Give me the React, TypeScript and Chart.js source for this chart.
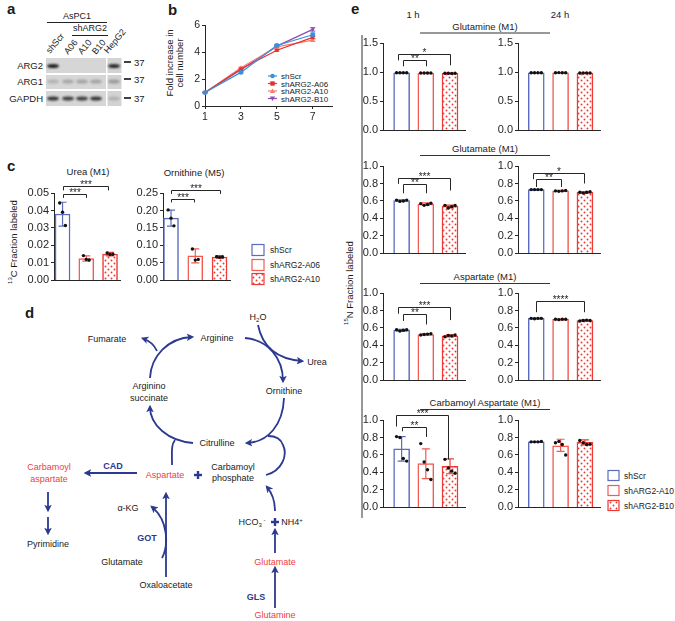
import React, { useEffect, useRef } from 'react';
import { Chart, registerables } from 'chart.js';
Chart.register(...registerables);

const FONT = '"Liberation Sans", Arial, Helvetica, sans-serif';
const NAVY = '#2b3990';
const RED_T = '#f03c3c';
const AXIS = '#262626';
const C_SCR = '#5a6cbd';
const C_A = '#f25a52';
const C_B = '#ee3a34';
const BAR_COLORS = [C_SCR, C_A, C_B];

// ---------------- panel b : growth ----------------
const growthDays = [1, 3, 5, 7];
const growthTicksY = [0, 2, 4, 6];
const growthNames = ['shScr', 'shARG2-A06', 'shARG2-A10', 'shARG2-B10'];
const growthScr = [1, 2.5, 4.5, 5.3];
const growthA06 = [1, 2.75, 4.15, 5.1];
const growthA10 = [1, 2.85, 4.4, 4.9];
const growthB10 = [1, 2.7, 4.45, 5.7];
const growthErrScr = [0.02, 0.06, 0.08, 0.12];
const growthErrA06 = [0.02, 0.05, 0.07, 0.1];
const growthErrA10 = [0.02, 0.05, 0.07, 0.1];
const growthErrB10 = [0.02, 0.05, 0.06, 0.13];
const growthColors = ['#3a8fd9', '#e8302a', '#f47c70', '#8e4db5'];

// ---------------- panel c : 13C ----------------
const cGroups = ['shScr', 'shARG2-A06', 'shARG2-A10'];
const cTicksUrea = [0, 0.01, 0.02, 0.03, 0.04, 0.05];
const cTicksOrn = [0, 0.05, 0.1, 0.15, 0.2, 0.25];
const ureaMean = [0.038, 0.0125, 0.015];
const ureaLo = [0.031, 0.011, 0.014];
const ureaHi = [0.0447, 0.014, 0.016];
const ureaPts = [[0.0443, 0.039, 0.0314], [0.0142, 0.012, 0.0117], [0.0157, 0.0148, 0.015]];
const ureaBr = [[0, 1, 0.0493, 0.0472, 0.0472, '***'], [0, 1.92, 0.0541, 0.0515, 0.0515, '***']];
const ornMean = [0.178, 0.07, 0.067];
const ornLo = [0.155, 0.05, 0.064];
const ornHi = [0.201, 0.09, 0.071];
const ornPts = [[0.2016, 0.178, 0.156], [0.09, 0.058, 0.06], [0.068, 0.066, 0.067]];
const ornBr = [[0, 0.93, 0.2339, 0.2231, 0.2231, '***'], [0, 2, 0.258, 0.2473, 0.2473, '***']];

// ---------------- panel e : 15N ----------------
const eGroups = ['shScr', 'shARG2-A10', 'shARG2-B10'];
const eTicksGln = [0, 0.5, 1.0, 1.5];
const eTicksFrac = [0, 0.2, 0.4, 0.6, 0.8, 1.0];
const eTitles = ['Glutamine (M1)', 'Glutamate (M1)', 'Aspartate (M1)', 'Carbamoyl Aspartate (M1)'];
const eTimes = ['1 h', '24 h'];

const gln1hMean = [0.99, 0.985, 0.98];
const gln1hLo = [0.987, 0.982, 0.976];
const gln1hHi = [0.993, 0.988, 0.984];
const gln1hPts = [[0.99, 0.99, 0.99, 0.99], [0.985, 0.986, 0.985, 0.986], [0.98, 0.982, 0.978, 0.98]];
const gln1hBr = [[0.05, 1, 1.202, 1.1, 1.1, '**'], [-0.15, 2, 1.309, 1.202, 1.117, '*']];
const gln24hMean = [0.99, 0.99, 0.985];
const gln24hLo = [0.988, 0.988, 0.982];
const gln24hHi = [0.992, 0.992, 0.988];
const gln24hPts = [[0.99, 0.99, 0.99, 0.99], [0.99, 0.992, 0.99, 0.99], [0.985, 0.984, 0.987, 0.985]];

const glu1hMean = [0.605, 0.565, 0.54];
const glu1hLo = [0.595, 0.55, 0.52];
const glu1hHi = [0.612, 0.578, 0.552];
const glu1hPts = [[0.61, 0.595, 0.6, 0.61], [0.57, 0.55, 0.56, 0.575], [0.55, 0.52, 0.535, 0.548]];
const glu1hBr = [[0.05, 1, 0.796, 0.688, 0.688, '**'], [-0.15, 2, 0.867, 0.796, 0.72, '***']];
const glu24hMean = [0.73, 0.715, 0.7];
const glu24hLo = [0.727, 0.708, 0.69];
const glu24hHi = [0.733, 0.722, 0.708];
const glu24hPts = [[0.73, 0.73, 0.73, 0.73], [0.715, 0.71, 0.715, 0.72], [0.7, 0.69, 0.7, 0.705]];
const glu24hBr = [[0, 1, 0.85, 0.76, 0.76, '**'], [-0.15, 1.95, 0.92, 0.85, 0.8, '*']];

const asp1hMean = [0.575, 0.525, 0.51];
const asp1hLo = [0.562, 0.518, 0.498];
const asp1hHi = [0.585, 0.535, 0.522];
const asp1hPts = [[0.58, 0.565, 0.575, 0.58], [0.52, 0.525, 0.53, 0.535], [0.5, 0.515, 0.51, 0.52]];
const asp1hBr = [[0.05, 1, 0.763, 0.68, 0.64, '**'], [-0.15, 2, 0.835, 0.763, 0.69, '***']];
const asp24hMean = [0.71, 0.7, 0.685];
const asp24hLo = [0.705, 0.695, 0.678];
const asp24hHi = [0.713, 0.703, 0.692];
const asp24hPts = [[0.71, 0.705, 0.71, 0.71], [0.7, 0.695, 0.7, 0.7], [0.68, 0.685, 0.69, 0.685]];
const asp24hBr = [[0, 1.95, 0.906, 0.78, 0.78, '****']];

const cba1hMean = [0.67, 0.5, 0.47];
const cba1hLo = [0.53, 0.33, 0.385];
const cba1hHi = [0.81, 0.67, 0.555];
const cba1hPts = [[0.81, 0.8, 0.56, 0.53], [0.73, 0.52, 0.43, 0.32], [0.55, 0.45, 0.415, 0.39]];
const cba1hBr = [[0.0, 1, 0.925, 0.871, 0.806, '**'], [-0.25, 1.93, 1.054, 0.925, 0.548, '***']];
const cba24hMean = [0.75, 0.705, 0.745];
const cba24hLo = [0.747, 0.64, 0.715];
const cba24hHi = [0.753, 0.78, 0.772];
const cba24hPts = [[0.75, 0.75, 0.75, 0.755], [0.74, 0.755, 0.72, 0.6], [0.765, 0.74, 0.72, 0.722]];

type Br = [number, number, number, number, number, string];
type BarDef = {
  axisX: number; right: number; top: number; bottom: number; xMin: number; xMax: number;
  ticks: number[]; dec: number; means: number[]; lo: number[]; hi: number[]; pts: number[][];
  brackets: Br[]; jitter: number; barW: number;
};

// plot-area layouts (pixels) – kept separate from data
const LAY_E_L = { axisX: 383, right: 465, xMin: -0.77, xMax: 2.62, jitter: 0.14, barW: 16 };
const LAY_E_R = { axisX: 518, right: 600, xMin: -0.75, xMax: 2.62, jitter: 0.14, barW: 16 };
const ROWS_E = [[43, 136], [166, 259], [293, 386], [420, 513]];

const barDefs: BarDef[] = [
  { axisX: 54, right: 120, top: 193, bottom: 286, xMin: -0.36, xMax: 2.42, jitter: 0.12, barW: 15,
    ticks: cTicksUrea, dec: 2, means: ureaMean, lo: ureaLo, hi: ureaHi, pts: ureaPts, brackets: ureaBr as Br[] },
  { axisX: 163, right: 230, top: 193, bottom: 286, xMin: -0.33, xMax: 2.43, jitter: 0.12, barW: 15,
    ticks: cTicksOrn, dec: 2, means: ornMean, lo: ornLo, hi: ornHi, pts: ornPts, brackets: ornBr as Br[] },
  { ...LAY_E_L, top: ROWS_E[0][0], bottom: ROWS_E[0][1], ticks: eTicksGln, dec: 1, means: gln1hMean, lo: gln1hLo, hi: gln1hHi, pts: gln1hPts, brackets: gln1hBr as Br[] },
  { ...LAY_E_R, top: ROWS_E[0][0], bottom: ROWS_E[0][1], ticks: eTicksGln, dec: 1, means: gln24hMean, lo: gln24hLo, hi: gln24hHi, pts: gln24hPts, brackets: [] },
  { ...LAY_E_L, top: ROWS_E[1][0], bottom: ROWS_E[1][1], ticks: eTicksFrac, dec: 1, means: glu1hMean, lo: glu1hLo, hi: glu1hHi, pts: glu1hPts, brackets: glu1hBr as Br[] },
  { ...LAY_E_R, top: ROWS_E[1][0], bottom: ROWS_E[1][1], ticks: eTicksFrac, dec: 1, means: glu24hMean, lo: glu24hLo, hi: glu24hHi, pts: glu24hPts, brackets: glu24hBr as Br[] },
  { ...LAY_E_L, top: ROWS_E[2][0], bottom: ROWS_E[2][1], ticks: eTicksFrac, dec: 1, means: asp1hMean, lo: asp1hLo, hi: asp1hHi, pts: asp1hPts, brackets: asp1hBr as Br[] },
  { ...LAY_E_R, top: ROWS_E[2][0], bottom: ROWS_E[2][1], ticks: eTicksFrac, dec: 1, means: asp24hMean, lo: asp24hLo, hi: asp24hHi, pts: asp24hPts, brackets: asp24hBr as Br[] },
  { ...LAY_E_L, top: ROWS_E[3][0], bottom: ROWS_E[3][1], ticks: eTicksFrac, dec: 1, means: cba1hMean, lo: cba1hLo, hi: cba1hHi, pts: cba1hPts, brackets: cba1hBr as Br[] },
  { ...LAY_E_R, top: ROWS_E[3][0], bottom: ROWS_E[3][1], ticks: eTicksFrac, dec: 1, means: cba24hMean, lo: cba24hLo, hi: cba24hHi, pts: cba24hPts, brackets: [] },
];

function makePattern(color: string) {
  const c = document.createElement('canvas');
  c.width = 6; c.height = 6;
  const g = c.getContext('2d')!;
  g.fillStyle = '#fff';
  g.fillRect(0, 0, 6, 6);
  g.fillStyle = color;
  g.beginPath(); g.arc(1.5, 1.5, 0.95, 0, Math.PI * 2); g.fill();
  g.beginPath(); g.arc(4.5, 4.5, 0.95, 0, Math.PI * 2); g.fill();
  return g.createPattern(c, 'repeat');
}

function BarPanel({ d }: { d: BarDef }) {
  const ref = useRef<HTMLCanvasElement>(null);
  const YW = 40, PT = 24, PR = 8, PB = 3;
  const ax = Math.round(d.axisX), tp = Math.round(d.top);
  const left = ax - YW, top = tp - PT;
  const w = YW + Math.round(d.right) - ax + PR;
  const h = PT + Math.round(d.bottom) - tp + PB;
  useEffect(() => {
    const pattern = makePattern(C_B);
    const pts: { x: number; y: number }[] = [];
    d.pts.forEach((arr, i) => arr.forEach((v, k) => pts.push({ x: i + (k - (arr.length - 1) / 2) * d.jitter, y: v })));
    const extras = {
      id: 'extras',
      afterDatasetDraw(chart: any, args: any) {
        if (args.index !== 1) return;
        const { ctx } = chart;
        const x = chart.scales.x, y = chart.scales.y;
        ctx.save();
        ctx.lineWidth = 1.2;
        d.means.forEach((_m, i) => {
          const px = x.getPixelForValue(i);
          const yl = y.getPixelForValue(d.lo[i]);
          const yh = y.getPixelForValue(d.hi[i]);
          ctx.strokeStyle = BAR_COLORS[i];
          ctx.beginPath();
          ctx.moveTo(px, yl); ctx.lineTo(px, yh);
          ctx.moveTo(px - 4, yl); ctx.lineTo(px + 4, yl);
          ctx.moveTo(px - 4, yh); ctx.lineTo(px + 4, yh);
          ctx.stroke();
        });
        ctx.restore();
      },
      afterDraw(chart: any) {
        const { ctx } = chart;
        const x = chart.scales.x, y = chart.scales.y;
        ctx.save();
        ctx.strokeStyle = AXIS; ctx.fillStyle = AXIS; ctx.lineWidth = 1;
        ctx.font = `10px ${FONT}`; ctx.textAlign = 'center'; ctx.textBaseline = 'alphabetic';
        d.brackets.forEach(([a, b, yy, e1, e2, lab]) => {
          const x1 = Math.round(x.getPixelForValue(a)) + 0.5;
          const x2 = Math.round(x.getPixelForValue(b)) + 0.5;
          const py = Math.round(y.getPixelForValue(yy)) + 0.5;
          ctx.beginPath();
          ctx.moveTo(x1, y.getPixelForValue(e1)); ctx.lineTo(x1, py);
          ctx.lineTo(x2, py); ctx.lineTo(x2, y.getPixelForValue(e2));
          ctx.stroke();
          ctx.fillText(lab, (x1 + x2) / 2, py + 1.5);
        });
        ctx.restore();
      },
    };
    const chart = new Chart(ref.current!, {
      type: 'bar',
      data: {
        datasets: [
          { type: 'scatter', data: pts, pointRadius: 1.7, pointBackgroundColor: '#111', pointBorderWidth: 0, order: 0, clip: false } as any,
          { type: 'bar', data: d.means.map((m, i) => ({ x: i, y: m })), backgroundColor: ['#ffffff', '#ffffff', pattern], borderColor: BAR_COLORS, borderWidth: 1.5, barThickness: d.barW, order: 1, clip: false, borderSkipped: 'bottom' } as any,
        ],
      },
      options: {
        animation: false, responsive: false, maintainAspectRatio: false, events: [],
        layout: { padding: { top: PT, right: PR, bottom: PB, left: 0 } },
        plugins: { legend: { display: false }, tooltip: { enabled: false } },
        scales: {
          x: {
            type: 'linear', min: d.xMin, max: d.xMax, offset: false,
            afterFit: (s: any) => { s.height = 0; },
            ticks: { display: false }, grid: { display: false },
            border: { display: true, color: AXIS, width: 1 },
          },
          y: {
            type: 'linear', min: 0, max: d.ticks[d.ticks.length - 1],
            afterFit: (s: any) => { s.width = YW; },
            afterBuildTicks: (s: any) => { s.ticks = d.ticks.map((v) => ({ value: v })); },
            ticks: { font: { family: FONT, size: 11 }, color: AXIS, padding: 2, callback: (v: any) => Number(v).toFixed(d.dec) },
            grid: { display: true, drawOnChartArea: false, drawTicks: true, tickLength: 3, color: AXIS },
            border: { display: true, color: AXIS, width: 1 },
          },
        },
      } as any,
      plugins: [extras],
    });
    return () => chart.destroy();
  }, []);
  return <canvas ref={ref} width={w} height={h} style={{ position: 'absolute', left, top, width: w, height: h }} />;
}

function GrowthChart() {
  const ref = useRef<HTMLCanvasElement>(null);
  const axisX = 205, right = 332, topY = 23, bottomY = 106;
  const YW = 16, PT = 6, PR = 6, XH = 18;
  const left = axisX - YW, top = topY - PT;
  const w = YW + right - axisX + PR, h = PT + bottomY - topY + XH;
  useEffect(() => {
    const series = [growthScr, growthA06, growthA10, growthB10];
    const errs = [growthErrScr, growthErrA06, growthErrA10, growthErrB10];
    const styles = ['circle', 'rect', 'triangle', 'triangle'];
    const rots = [0, 0, 0, 180];
    const errPlugin = {
      id: 'gerr',
      beforeDatasetsDraw(chart: any) {
        const { ctx } = chart;
        const x = chart.scales.x, y = chart.scales.y;
        ctx.save(); ctx.lineWidth = 1;
        series.forEach((s, si) => {
          ctx.strokeStyle = growthColors[si];
          s.forEach((v, i) => {
            const px = x.getPixelForValue(growthDays[i]);
            const a = y.getPixelForValue(v - errs[si][i]), b = y.getPixelForValue(v + errs[si][i]);
            ctx.beginPath();
            ctx.moveTo(px, a); ctx.lineTo(px, b);
            ctx.moveTo(px - 2.5, a); ctx.lineTo(px + 2.5, a);
            ctx.moveTo(px - 2.5, b); ctx.lineTo(px + 2.5, b);
            ctx.stroke();
          });
        });
        ctx.restore();
      },
    };
    const chart = new Chart(ref.current!, {
      type: 'line',
      data: {
        datasets: series.map((s, si) => ({
          label: growthNames[si],
          data: s.map((v, i) => ({ x: growthDays[i], y: v })),
          borderColor: growthColors[si], backgroundColor: growthColors[si],
          pointStyle: styles[si], rotation: rots[si], pointRadius: 2.4, pointBorderWidth: 0,
          borderWidth: 1.2, tension: 0, clip: false,
        })) as any,
      },
      options: {
        animation: false, responsive: false, maintainAspectRatio: false, events: [],
        layout: { padding: { top: PT, right: PR, bottom: 0, left: 0 } },
        plugins: { legend: { display: false }, tooltip: { enabled: false } },
        scales: {
          x: {
            type: 'linear', min: 1, max: 8.07,
            afterFit: (s: any) => { s.height = XH; },
            afterBuildTicks: (s: any) => { s.ticks = growthDays.map((v) => ({ value: v })); },
            ticks: { font: { family: FONT, size: 10.5 }, color: AXIS, padding: 2 },
            grid: { display: true, drawOnChartArea: false, drawTicks: true, tickLength: 3, color: AXIS },
            border: { display: true, color: AXIS, width: 1 },
          },
          y: {
            type: 'linear', min: 0, max: 6,
            afterFit: (s: any) => { s.width = YW; },
            afterBuildTicks: (s: any) => { s.ticks = growthTicksY.map((v) => ({ value: v })); },
            ticks: { font: { family: FONT, size: 10.5 }, color: AXIS, padding: 2 },
            grid: { display: true, drawOnChartArea: false, drawTicks: true, tickLength: 3, color: AXIS },
            border: { display: true, color: AXIS, width: 1 },
          },
        },
      } as any,
      plugins: [errPlugin],
    });
    return () => chart.destroy();
  }, []);
  return <canvas ref={ref} width={w} height={h} style={{ position: 'absolute', left, top, width: w, height: h }} />;
}

const T = ({ x, y, children, a = 'middle', s = 9, c = '#1a1a1a', w = 'normal' }: any) => (
  <text x={x} y={y} textAnchor={a} fontSize={s} fill={c} fontWeight={w} fontFamily={FONT}>{children}</text>
);

function Marker({ kind, x, y, c }: any) {
  if (kind === 0) return <circle cx={x} cy={y} r={2.2} fill={c} />;
  if (kind === 1) return <rect x={x - 2.2} y={y - 2.2} width={4.4} height={4.4} fill={c} />;
  if (kind === 2) return <path d={`M${x},${y - 2.6} L${x + 2.6},${y + 2} L${x - 2.6},${y + 2} Z`} fill={c} />;
  return <path d={`M${x},${y + 2.6} L${x + 2.6},${y - 2} L${x - 2.6},${y - 2} Z`} fill={c} />;
}

function Blot() {
  const lanes = [53, 68, 82, 96, 114];
  const rows = [
    { name: 'ARG2', y0: 58, y1: 73, yb: 66, ints: [0.95, 0, 0, 0, 0.9], mk: 62 },
    { name: 'ARG1', y0: 75, y1: 89, yb: 81.5, ints: [0.18, 0.24, 0.26, 0.26, 0.3], mk: 79 },
    { name: 'GAPDH', y0: 91, y1: 106, yb: 98.5, ints: [0.85, 0.8, 0.8, 0.85, 0.18], mk: 98 },
  ];
  const laneLabels = [['shScr', 50, 54], ['A06', 68, 55], ['A10', 82, 55], ['B10', 96, 55], ['HepG2', 108, 54]];
  return (
    <g>
      <T x={7} y={14} s={15} w="bold" a="start">a</T>
      <T x={77} y={19}>AsPC1</T>
      <line x1={47} x2={107} y1={22.5} y2={22.5} stroke="#222" strokeWidth={1} />
      <T x={90} y={31}>shARG2</T>
      <line x1={72} x2={108} y1={35.5} y2={35.5} stroke="#222" strokeWidth={1} />
      {laneLabels.map(([t, x, y]: any) => (
        <text key={t} x={x} y={y} fontSize={9} fontFamily={FONT} fill="#1a1a1a" transform={`rotate(-50 ${x} ${y})`}>{t}</text>
      ))}
      {rows.map((r) => (
        <g key={r.name}>
          <rect x={46} y={r.y0} width={60} height={r.y1 - r.y0} fill="#d6d6d6" />
          <rect x={107.5} y={r.y0} width={14} height={r.y1 - r.y0} fill="#d3d3d3" />
          {r.ints.map((v, i) => v > 0 ? (
            <ellipse key={i} cx={lanes[i]} cy={r.yb} rx={6} ry={2} fill="#151515" opacity={v} filter="url(#blur)" />
          ) : null)}
          <T x={43} y={r.yb + 3} a="end" s={9.5}>{r.name}</T>
          <line x1={124} x2={131} y1={r.mk} y2={r.mk} stroke="#111" strokeWidth={1.6} />
          <T x={134} y={r.mk + 3.5} a="start" s={9.5}>37</T>
        </g>
      ))}
    </g>
  );
}

function Pathway() {
  const P = (d: string, head = true) => (
    <path d={d} fill="none" stroke={NAVY} strokeWidth={1.8} markerEnd={head ? 'url(#ah)' : undefined} />
  );
  const plus = (x: number, y: number) => (
    <g stroke={NAVY} strokeWidth={2.4}>
      <line x1={x - 4} x2={x + 4} y1={y} y2={y} />
      <line x1={x} x2={x} y1={y - 4} y2={y + 4} />
    </g>
  );
  return (
    <g>
      <T x={25} y={318} s={15} w="bold" a="start">d</T>
      {P('M150,378 C151,356 168,338 192,337')}
      {P('M157,351 Q153,342 143,338.5')}
      {P('M245,338 C268,340 283,358 283,381')}
      {P('M258,325 C262,345 275,359 302,361')}
      {P('M284,398 C283,425 268,442 247,443')}
      {P('M266,475 C282,471 288,455 283,445 C281,439 276,436 268,436', false)}
      {P('M193,443 C168,441 150,425 150,407')}
      {P('M172,465 C172,452 171,445 175,440', false)}
      {P('M137,473 L86,473')}
      {P('M48,492 L48,510')}
      {P('M48,517 L48,533')}
      {P('M166,577 L166,494')}
      {P('M162,558 C169,545 168,520 152,507')}
      {P('M275,511 C275,500 272,493 267,487')}
      {P('M275,553 L275,530')}
      {P('M275,608 L275,568')}
      {plus(198, 475)}
      {plus(275, 522)}
      <T x={258} y={320}>H<tspan fontSize={6} dy={2}>2</tspan><tspan dy={-2}>O</tspan></T>
      <T x={107} y={342}>Fumarate</T>
      <T x={217} y={341}>Arginine</T>
      <T x={317} y={365}>Urea</T>
      <T x={149} y={389}>Arginino</T>
      <T x={149} y={401}>succinate</T>
      <T x={284} y={394}>Ornithine</T>
      <T x={217} y={446}>Citrulline</T>
      <T x={49} y={470} c={RED_T}>Carbamoyl</T>
      <T x={49} y={482} c={RED_T}>aspartate</T>
      <T x={113} y={469} c={NAVY} w="bold">CAD</T>
      <T x={165} y={478} c={RED_T}>Aspartate</T>
      <T x={233} y={470}>Carbamoyl</T>
      <T x={233} y={481}>phosphate</T>
      <T x={128} y={511}>α-KG</T>
      <T x={147} y={541} c={NAVY} w="bold">GOT</T>
      <T x={48} y={547}>Pyrimidine</T>
      <T x={122} y={565}>Glutamate</T>
      <T x={166} y={588}>Oxaloacetate</T>
      <T x={252} y={525}>HCO<tspan fontSize={6} dy={2}>3</tspan><tspan fontSize={6} dy={-5}> -</tspan></T>
      <T x={292} y={525}>NH4<tspan fontSize={6} dy={-3}>+</tspan></T>
      <T x={275} y={565} c={RED_T}>Glutamate</T>
      <T x={256} y={600} c={NAVY} w="bold">GLS</T>
      <T x={275} y={618} c={RED_T}>Glutamine</T>
    </g>
  );
}

function Overlay() {
  const cLegendY = [250, 265, 279];
  const eLegendY = [475.5, 490.5, 505.5];
  const eTitleY = [[29.5, 33], [152, 155.5], [280, 283.5], [406, 409.5]];
  const gLegY = [76, 83.5, 91, 98.5];
  return (
    <svg width={675} height={621} style={{ position: 'absolute', left: 0, top: 0 }}>
      <defs>
        <filter id="blur" x="-50%" y="-100%" width="200%" height="300%"><feGaussianBlur stdDeviation="0.9" /></filter>
        <marker id="ah" viewBox="0 0 10 10" refX="7" refY="5" markerWidth="4.2" markerHeight="4.2" orient="auto-start-reverse">
          <path d="M0,0 L10,5 L0,10 L2.5,5 Z" fill={NAVY} />
        </marker>
        <pattern id="dots" width="6" height="6" patternUnits="userSpaceOnUse">
          <rect width="6" height="6" fill="#fff" />
          <circle cx="1.5" cy="1.5" r="0.95" fill={C_B} />
          <circle cx="4.5" cy="4.5" r="0.95" fill={C_B} />
        </pattern>
      </defs>
      <Blot />
      {/* panel b */}
      <T x={168} y={15} s={15} w="bold" a="start">b</T>
      <g transform="rotate(-90 176 63)">
        <T x={176} y={60} s={9.5}>Fold increase in</T>
        <T x={176} y={70} s={9.5}>cell number</T>
      </g>
      {growthNames.map((n, i) => (
        <g key={n}>
          <line x1={268} x2={277} y1={gLegY[i]} y2={gLegY[i]} stroke={growthColors[i]} strokeWidth={1.2} />
          <Marker kind={i} x={272.5} y={gLegY[i]} c={growthColors[i]} />
          <T x={281} y={gLegY[i] + 3} a="start" s={8}>{n}</T>
        </g>
      ))}
      {/* panel c */}
      <T x={7} y={171} s={15} w="bold" a="start">c</T>
      <T x={88} y={175} s={9.5}>Urea (M1)</T>
      <T x={194} y={176} s={9.5}>Ornithine (M5)</T>
      <g transform="rotate(-90 13 242)">
        <text x={13} y={242} textAnchor="middle" dominantBaseline="central" fontSize={9.5} fontFamily={FONT} fill="#1a1a1a">
          <tspan fontSize={6} dy={-3}>13</tspan><tspan dy={3}>C Fraction labeled</tspan>
        </text>
      </g>
      {cGroups.map((n, i) => (
        <g key={n}>
          <rect x={252} y={cLegendY[i] - 5.5} width={12} height={11} fill={i === 2 ? 'url(#dots)' : '#fff'} stroke={BAR_COLORS[i]} strokeWidth={1.2} />
          <T x={270} y={cLegendY[i] + 3} a="start" s={8.5}>{n}</T>
        </g>
      ))}
      <Pathway />
      {/* panel e */}
      <T x={351} y={14} s={15} w="bold" a="start">e</T>
      <T x={413} y={17.5} s={9.5}>{eTimes[0]}</T>
      <T x={560} y={17.5} s={9.5}>{eTimes[1]}</T>
      {eTitles.map((t, i) => (
        <g key={t}>
          <T x={485} y={eTitleY[i][0]} s={9.5}>{t}</T>
          <line x1={420} x2={550} y1={eTitleY[i][1]} y2={eTitleY[i][1]} stroke="#333" strokeWidth={1} />
        </g>
      ))}
      <line x1={362} x2={362} y1={35} y2={518} stroke="#333" strokeWidth={1} />
      <g transform="rotate(-90 349 283)">
        <text x={349} y={283} textAnchor="middle" dominantBaseline="central" fontSize={9.5} fontFamily={FONT} fill="#1a1a1a">
          <tspan fontSize={6} dy={-3}>15</tspan><tspan dy={3}>N Fraction labeled</tspan>
        </text>
      </g>
      {eGroups.map((n, i) => (
        <g key={n}>
          <rect x={608} y={eLegendY[i] - 5} width={11} height={10} fill={i === 2 ? 'url(#dots)' : '#fff'} stroke={BAR_COLORS[i]} strokeWidth={1.2} />
          <T x={624} y={eLegendY[i] + 3} a="start" s={8.5}>{n}</T>
        </g>
      ))}
    </svg>
  );
}

export default function App() {
  return (
    <div style={{ position: 'absolute', left: 0, top: 0, width: 675, height: 621, background: '#fff', overflow: 'hidden', fontFamily: FONT }}>
      <Overlay />
      <GrowthChart />
      {barDefs.map((d, i) => <BarPanel key={i} d={d} />)}
    </div>
  );
}
